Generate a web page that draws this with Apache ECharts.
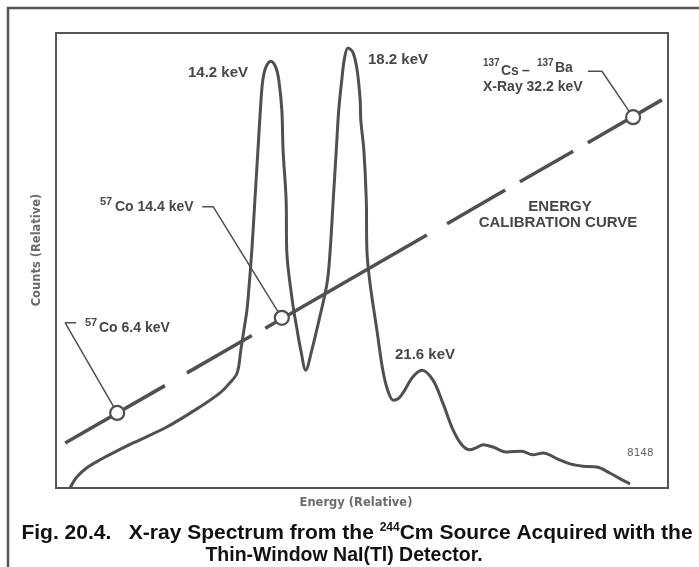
<!DOCTYPE html>
<html>
<head>
<meta charset="utf-8">
<script src="https://cdn.jsdelivr.net/npm/echarts@6/dist/echarts.min.js"></script>
<style>
html,body{margin:0;padding:0;background:#fff;}
#c{width:699px;height:567px;}
</style>
</head>
<body>
<div id="c"></div>
<script>
// Spectrum (relative energy, relative counts)
const specX = [2.3,3.4,5.2,7.2,12.6,18.1,23.5,26.8,28.4,29.6,30.2,30.7,31.2,31.5,32.0,32.5,33.0,33.5,33.8,34.3,35.1,35.9,36.4,36.9,37.1,37.6,37.7,38.6,39.4,40.0,40.8,41.8,43.1,44.3,44.8,45.3,45.8,46.2,46.7,47.1,47.7,48.5,49.2,49.7,49.8,50.3,50.7,50.8,51.3,52.5,53.4,54.2,55.1,55.9,56.7,58.3,59.8,61.6,63.2,64.9,66.3,67.6,68.6,69.8,71.4,73.7,76.1,77.9,79.6,81.9,84.0,86.1,88.4,90.5,92.2,93.8];
const specY = [0,2.4,4.6,6.2,9.9,13.4,17.8,20.9,23.1,25.3,30.3,34.7,39.1,43.5,52.3,63.3,74.3,85.3,89.7,92.5,93.8,92.5,89.7,83.1,74.3,63.3,52.3,41.3,34.7,30.3,25.9,30.3,37.6,45.1,52.3,63.3,74.3,83.1,89.7,94.1,96.7,95.8,91.9,85.3,80.9,74.3,63.3,52.3,45.1,34.1,25.9,21.5,19.3,19.6,20.9,24.4,25.9,23.7,18.7,12.7,9.5,8.4,8.8,9.5,9.0,7.9,8.1,7.3,7.7,6.4,5.3,4.8,4.6,3.3,2.0,0.9];

// Energy calibration curve, drawn as dashes (start / end of each dash)
const calibX1 = [1.5, 21.4, 34.2, 63.9, 75.8, 86.9];
const calibY1 = [9.9, 25.3, 35.1, 58.1, 67.3, 75.9];
const calibX2 = [17.8, 32.0, 60.6, 73.4, 84.5, 99.0];
const calibY2 = [22.5, 33.5, 55.6, 65.5, 74.0, 85.3];

// Calibration points
const calibPtX = [10.0, 36.9, 94.3];
const calibPtY = [16.5, 37.4, 81.5];

// Leader lines from labels to calibration points
const leaderX = [[3.3, 1.5, 10.0], [23.9, 25.7, 36.9], [86.9, 89.2, 94.3]];
const leaderY = [[36.3, 36.3, 16.5], [61.8, 61.8, 37.4], [91.6, 91.6, 81.5]];

const FF = '"Liberation Sans", Arial, Helvetica, sans-serif';
const FD = '"DejaVu Sans", sans-serif';
const INK = '#505050';

const chart = echarts.init(document.getElementById('c'), null, {renderer:'canvas'});

const series = [];
series.push({
  type:'line', name:'spectrum', smooth:0.35, symbol:'none', z:3,
  data: specX.map((x,i)=>[x, specY[i]]),
  lineStyle:{color:INK, width:3}
});
for (let i=0;i<calibX1.length;i++){
  series.push({
    type:'line', symbol:'none', z:3,
    data:[[calibX1[i],calibY1[i]],[calibX2[i],calibY2[i]]],
    lineStyle:{color:INK, width:3.5, cap:'butt'}
  });
}
for (let i=0;i<leaderX.length;i++){
  series.push({
    type:'line', symbol:'none', z:2,
    data: leaderX[i].map((x,j)=>[x, leaderY[i][j]]),
    lineStyle:{color:INK, width:1.5}
  });
}
series.push({
  type:'scatter', symbol:'circle', symbolSize:14, z:5,
  data: calibPtX.map((x,i)=>[x, calibPtY[i]]),
  itemStyle:{color:'#fff', borderColor:INK, borderWidth:2.2, opacity:1}
});

function txt(text, x, y, size, opts){
  opts = opts || {};
  return {
    type:'text', x:x, y:y, rotation: opts.rot || 0, z:10,
    style:{
      text:text, x:0, y:0,
      font:(opts.weight||'bold')+' '+size+'px '+(opts.family||FF),
      fill: opts.color || '#474747',
      textAlign: opts.align || 'left',
      textVerticalAlign: 'middle'
    }
  };
}

const graphics = [
  {type:'rect', z:1, shape:{x:8,y:8,width:760,height:640}, style:{fill:'none', stroke:'#555', lineWidth:2.5}},
  txt('14.2 keV', 188, 73, 15),
  txt('18.2 keV', 368, 60, 15),
  txt('21.6 keV', 395, 355, 15),
  txt('ENERGY', 560, 207, 15, {align:'center'}),
  txt('CALIBRATION CURVE', 558, 223, 15, {align:'center'}),
  txt('8148', 627, 453, 10.5, {color:'#666', weight:'normal', family:FD}),
  txt('57', 85, 323, 11),
  txt('Co 6.4 keV', 99, 328, 14),
  txt('57', 100, 202, 11),
  txt('Co 14.4 keV', 115, 207, 14),
  txt('137', 483, 63, 10),
  txt('Cs', 501, 71, 14),
  txt('\u2013', 522, 71, 14),
  txt('137', 537, 63, 10),
  txt('Ba', 555, 68, 14),
  txt('X-Ray 32.2 keV', 483, 87, 14),
  txt('Counts (Relative)', 37, 250, 11.5, {rot:Math.PI/2, align:'center', color:'#6a6a6a', family:FD}),
  txt('Energy (Relative)', 356, 503, 11.5, {align:'center', color:'#6a6a6a', family:FD}),
  {
    type:'text', x:357, y:533, z:10,
    style:{
      text:'{n|Fig. 20.4.   X-ray Spectrum from the }{s|244}{n|Cm Source Acquired with the}',
      x:0, y:0, textAlign:'center', textVerticalAlign:'middle',
      rich:{
        n:{fontFamily:FF, fontSize:21, fontWeight:'bold', fill:'#111', color:'#111', lineHeight:22},
        s:{fontFamily:FF, fontSize:12, fontWeight:'bold', fill:'#111', color:'#111', verticalAlign:'top', lineHeight:22}
      }
    }
  },
  txt('Thin-Window NaI(Tl) Detector.', 344, 556, 19.5, {align:'center', color:'#111'})
];

chart.setOption({
  animation:false,
  backgroundColor:'#fff',
  grid:{left:56, top:33, width:612, height:455, show:true, borderColor:'#555', borderWidth:2, backgroundColor:'transparent'},
  xAxis:{type:'value', min:0, max:100, axisLine:{show:false}, axisTick:{show:false}, axisLabel:{show:false}, splitLine:{show:false}},
  yAxis:{type:'value', min:0, max:100, axisLine:{show:false}, axisTick:{show:false}, axisLabel:{show:false}, splitLine:{show:false}},
  series: series,
  graphic: graphics
});
</script>
</body>
</html>
